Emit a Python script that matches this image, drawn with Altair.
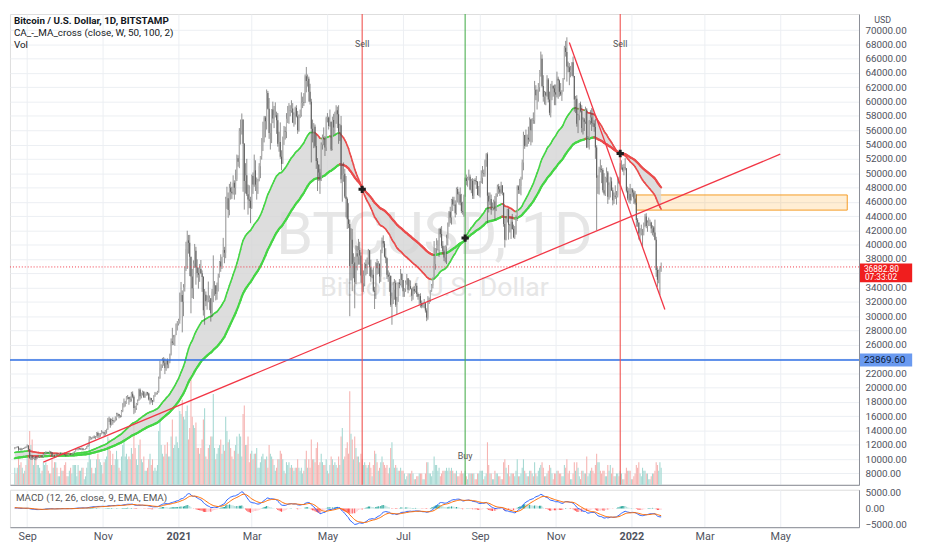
import altair as alt
import numpy as np
import pandas as pd

# ---------------- data ----------------
# daily candles from 2020-08-22; prices in thousands of USD, volume in thousands of BTC
start_date = "2020-08-22"
prev_close_k = 11.52  # close of 2020-08-21 (open of first candle)

close_k = [
    11.68, 11.65, 11.76, 11.34, 11.47, 11.32, 11.53, 11.48, 11.70, 11.65,
    11.92, 11.40, 10.17, 10.47, 10.15, 10.25, 10.37, 10.12, 10.22, 10.34, 10.39, 10.44, 10.33, 10.68, 10.79, 10.95, 10.94, 10.93, 11.08, 10.92, 10.42, 10.53, 10.24, 10.75, 10.69, 10.73, 10.78, 10.70, 10.84, 10.78,
    10.62, 10.58, 10.55, 10.67, 10.78, 10.60, 10.67, 10.92, 11.07, 11.30, 11.38, 11.54, 11.43, 11.43, 11.50, 11.33, 11.37, 11.51, 11.75, 11.92, 12.82, 12.99, 12.93, 13.13, 13.04, 13.07, 13.65, 13.28, 13.46, 13.56, 13.80,
    13.76, 13.56, 14.03, 14.15, 15.59, 15.58, 14.83, 15.48, 15.33, 15.31, 15.70, 16.29, 16.33, 16.07, 15.96, 16.72, 17.66, 17.80, 17.82, 18.66, 18.69, 18.42, 18.37, 19.15, 18.73, 17.15, 17.14, 17.73, 18.18, 19.70,
    18.79, 19.21, 19.44, 18.65, 19.15, 19.36, 19.17, 18.33, 18.55, 18.24, 18.05, 18.80, 19.17, 19.27, 19.43, 21.33, 22.80, 23.14, 23.86, 23.48, 22.74, 23.82, 23.25, 23.71, 24.69, 26.44, 26.28, 27.05, 27.35, 28.87, 28.99,
    29.40, 32.19, 32.97, 32.02, 34.03, 36.82, 39.38, 40.60, 40.25, 38.30, 35.55, 33.92, 37.36, 39.15, 36.80, 36.03, 35.80, 36.60, 36.00, 35.47, 30.83, 33.00, 32.08, 32.26, 32.25, 32.51, 30.40, 33.44, 34.30, 34.30, 33.10,
    33.53, 35.52, 37.65, 36.95, 38.28, 39.26, 38.88, 46.40, 46.48, 44.85, 47.95, 47.40, 47.20, 48.65, 47.95, 49.15, 52.10, 51.60, 55.90, 55.90, 57.50, 54.10, 48.90, 49.70, 47.05, 46.30, 46.15, 45.15,
    49.60, 48.40, 50.40, 48.40, 48.75, 48.88, 50.97, 52.35, 54.90, 55.85, 57.80, 57.25, 61.20, 59.00, 55.60, 56.90, 58.90, 57.65, 58.10, 58.10, 57.40, 54.10, 54.35, 52.30, 51.30, 55.10, 55.85, 55.80, 57.60, 58.75, 58.80,
    58.75, 59.05, 57.10, 58.20, 59.10, 57.95, 56.00, 58.00, 58.10, 59.80, 59.90, 59.85, 63.55, 62.90, 63.20, 61.40, 60.00, 56.20, 55.70, 56.50, 53.80, 51.70, 51.20, 50.10, 49.00, 54.00, 55.00, 54.80, 53.60, 57.70,
    57.80, 56.60, 57.20, 53.30, 57.45, 56.40, 57.35, 58.80, 58.25, 55.80, 56.70, 49.15, 49.70, 49.90, 46.75, 46.40, 43.55, 42.90, 37.00, 40.70, 37.30, 37.50, 34.75, 38.80, 38.35, 39.25, 38.50, 35.70, 34.60, 35.65, 37.30,
    36.70, 37.55, 39.20, 36.85, 35.50, 35.80, 33.55, 33.40, 37.40, 36.70, 37.30, 35.55, 39.10, 40.50, 40.15, 38.35, 38.10, 35.80, 35.50, 35.60, 31.60, 32.50, 33.70, 34.65, 31.60, 32.20, 34.70, 34.50, 35.90, 35.05,
    33.50, 33.80, 34.70, 35.30, 33.70, 34.20, 33.85, 32.85, 33.80, 33.50, 34.25, 33.10, 32.70, 32.80, 31.85, 31.40, 31.50, 31.80, 30.80, 29.80, 32.10, 32.30, 33.60, 34.30, 35.40, 37.30, 39.50, 40.00, 40.00, 42.20, 41.50,
    39.85, 39.15, 38.20, 39.70, 40.90, 42.80, 44.60, 43.80, 46.30, 45.60, 45.60, 44.40, 47.80, 47.05, 47.00, 45.90, 44.70, 44.60, 46.70, 49.30, 48.90, 49.30, 49.50, 47.70, 48.95, 46.85, 49.05, 48.90, 48.80, 46.95, 47.15,
    48.80, 49.30, 50.00, 49.90, 51.75, 52.65, 46.85, 46.05, 46.40, 44.85, 45.15, 46.05, 44.95, 47.10, 48.15, 47.75, 47.30, 48.30, 47.25, 42.90, 40.70, 43.55, 44.90, 42.80, 42.70, 43.20, 42.20, 41.05, 41.55, 43.80,
    48.15, 47.65, 48.20, 49.20, 51.50, 55.35, 53.80, 53.95, 54.95, 54.70, 57.50, 56.00, 57.40, 57.35, 61.65, 60.90, 61.55, 62.00, 64.30, 66.00, 62.20, 60.70, 61.30, 60.85, 63.10, 60.30, 58.45, 60.60, 62.20, 61.85, 61.30,
    61.00, 63.20, 62.95, 61.40, 61.00, 61.50, 63.30, 67.55, 66.95, 64.90, 64.80, 64.15, 64.40, 65.50, 63.60, 60.30, 60.40, 56.90, 58.10, 59.70, 58.70, 56.30, 57.50, 57.20, 58.90, 53.60, 54.80, 57.30, 57.80, 57.00,
    56.95, 56.45, 53.60, 49.35, 49.40, 50.60, 50.55, 50.45, 47.60, 47.15, 49.35, 50.10, 46.70, 48.35, 48.85, 47.60, 46.20, 46.85, 46.70, 46.90, 48.90, 48.60, 50.80, 50.80, 50.40, 50.80, 50.70, 47.55, 46.45, 47.10, 46.20,
    47.70, 47.30, 46.45, 45.85, 43.45, 43.10, 41.55, 41.70, 41.85, 41.85, 42.75, 43.95, 42.60, 43.10, 43.10, 43.10, 42.25, 42.40, 41.70, 40.70, 36.45, 35.10, 36.30, 36.70, 36.88,
]

high_k = [
    11.69, 11.72, 11.82, 11.77, 11.54, 11.59, 11.55, 11.58, 11.71, 11.79,
    12.07, 11.95, 11.44, 10.62, 10.56, 10.34, 10.40, 10.43, 10.35, 10.49, 10.40, 10.48, 10.57, 10.80, 10.94, 11.10, 11.04, 11.03, 11.18, 11.08, 10.98, 10.56, 10.54, 10.78, 10.77, 10.79, 10.80, 10.95, 10.86, 10.85,
    10.92, 10.67, 10.60, 10.69, 10.80, 10.80, 10.69, 10.96, 11.11, 11.50, 11.43, 11.72, 11.56, 11.56, 11.62, 11.54, 11.42, 11.52, 11.82, 12.03, 13.22, 13.17, 13.03, 13.16, 13.33, 13.24, 13.79, 13.85, 13.64, 13.65, 14.06,
    13.89, 13.82, 14.07, 14.25, 15.77, 15.95, 15.77, 15.65, 15.84, 15.46, 15.98, 16.49, 16.48, 16.33, 16.17, 16.88, 17.83, 18.48, 18.15, 18.81, 18.97, 18.70, 18.77, 19.41, 19.48, 18.92, 17.46, 17.85, 18.35, 19.86,
    19.89, 19.31, 19.59, 19.51, 19.16, 19.42, 19.40, 19.28, 18.64, 18.57, 18.27, 18.95, 19.40, 19.34, 19.56, 21.55, 23.77, 23.27, 24.17, 24.28, 24.10, 23.83, 24.10, 23.79, 24.76, 26.89, 28.37, 27.37, 27.39, 28.99, 29.32,
    29.63, 33.30, 34.78, 33.60, 34.48, 36.95, 40.40, 41.95, 41.36, 41.37, 38.30, 36.60, 37.80, 40.10, 39.70, 37.95, 36.80, 37.30, 37.85, 36.40, 35.60, 33.80, 33.45, 32.90, 34.84, 32.90, 32.52, 33.80, 38.50, 34.90, 34.35,
    34.70, 35.95, 37.70, 38.65, 38.30, 40.95, 39.70, 46.70, 48.10, 47.30, 48.50, 48.80, 48.10, 49.70, 49.00, 50.50, 52.60, 52.50, 56.30, 57.50, 58.35, 57.50, 54.20, 51.40, 52.00, 48.40, 48.30, 46.70,
    49.80, 50.10, 52.60, 51.80, 49.40, 49.20, 51.40, 52.40, 54.90, 57.20, 58.00, 58.00, 61.70, 61.50, 60.50, 56.95, 58.95, 60.00, 59.40, 59.90, 58.60, 58.40, 55.80, 57.10, 53.20, 55.10, 56.60, 56.50, 58.40, 59.40, 59.80,
    59.50, 60.20, 59.80, 58.50, 59.30, 59.50, 58.70, 58.20, 58.90, 61.30, 60.70, 61.20, 63.80, 64.85, 63.80, 63.50, 62.50, 60.40, 57.50, 57.00, 56.80, 55.40, 52.10, 51.20, 50.60, 54.30, 55.40, 56.40, 55.20, 57.90,
    58.40, 57.90, 58.90, 57.10, 57.90, 58.30, 58.60, 59.50, 59.30, 59.50, 56.90, 58.00, 51.30, 51.50, 50.60, 49.60, 46.60, 45.80, 43.50, 42.30, 42.20, 38.80, 38.30, 39.90, 39.80, 40.80, 40.40, 38.90, 37.30, 36.40, 37.50,
    37.90, 38.20, 39.40, 39.25, 37.90, 36.50, 36.80, 34.10, 37.55, 38.00, 37.70, 37.40, 39.30, 41.00, 41.30, 40.50, 39.50, 38.20, 36.40, 36.10, 35.70, 33.30, 34.80, 35.20, 35.00, 32.70, 34.70, 35.20, 36.60, 36.00,
    35.00, 33.90, 35.00, 35.90, 35.30, 35.10, 35.00, 33.90, 34.10, 34.20, 34.60, 34.65, 33.30, 33.10, 33.20, 32.20, 31.90, 32.40, 31.90, 31.10, 32.80, 32.60, 33.60, 34.50, 35.40, 40.50, 39.50, 40.90, 40.60, 42.30, 42.40,
    42.60, 40.50, 39.80, 39.90, 41.40, 43.10, 44.70, 45.30, 46.40, 46.70, 46.70, 46.20, 48.00, 48.10, 47.40, 48.00, 47.10, 46.00, 47.00, 49.40, 49.80, 49.50, 50.50, 49.80, 49.20, 49.30, 49.15, 49.30, 49.60, 48.90, 48.20,
    48.90, 50.40, 51.00, 50.50, 51.90, 52.80, 52.90, 47.30, 47.30, 47.00, 45.90, 46.30, 46.80, 47.20, 48.40, 48.50, 48.20, 48.80, 48.30, 47.30, 43.60, 44.00, 45.00, 45.10, 42.90, 43.90, 44.30, 42.80, 42.60, 44.10,
    48.30, 48.30, 49.20, 49.50, 51.90, 55.80, 55.30, 56.10, 55.40, 56.50, 57.80, 57.60, 57.70, 58.50, 62.90, 62.30, 61.70, 62.60, 64.40, 67.00, 66.60, 63.70, 61.50, 61.40, 63.70, 63.30, 61.40, 62.50, 62.90, 62.30, 62.40,
    62.40, 64.20, 63.50, 63.10, 62.60, 61.60, 63.30, 67.80, 68.50, 69.00, 65.60, 65.40, 65.00, 65.50, 66.30, 63.60, 60.80, 60.90, 58.30, 59.80, 60.00, 59.50, 57.80, 57.70, 59.30, 59.10, 55.20, 57.40, 58.80, 59.10,
    59.00, 57.40, 57.60, 53.90, 49.70, 50.90, 51.90, 51.10, 50.70, 50.00, 49.50, 50.80, 50.30, 48.70, 49.50, 49.40, 48.00, 47.30, 48.30, 47.50, 49.30, 49.50, 51.40, 51.80, 51.20, 51.30, 52.10, 50.70, 48.10, 47.90, 48.50,
    47.90, 47.90, 47.60, 47.50, 47.10, 43.70, 43.10, 42.30, 42.80, 42.20, 43.10, 44.30, 44.40, 43.40, 43.80, 43.50, 43.20, 42.70, 42.60, 43.50, 41.10, 36.80, 36.50, 37.00, 37.50,
]

low_k = [
    11.38, 11.52, 11.59, 11.13, 11.27, 11.16, 11.29, 11.43, 11.46, 11.55,
    11.65, 11.17, 10.06, 9.90, 9.88, 10.02, 9.90, 9.85, 10.01, 10.20, 10.20, 10.28, 10.21, 10.23, 10.63, 10.66, 10.76, 10.80, 10.90, 10.83, 10.37, 10.38, 10.14, 10.21, 10.55, 10.65, 10.62, 10.64, 10.64, 10.67,
    10.55, 10.38, 10.51, 10.53, 10.60, 10.54, 10.56, 10.54, 10.83, 11.06, 11.27, 11.22, 11.30, 11.29, 11.26, 11.23, 11.30, 11.33, 11.42, 11.70, 11.90, 12.72, 12.73, 12.90, 12.90, 12.77, 13.05, 12.95, 12.99, 13.13, 13.46,
    13.62, 13.20, 13.30, 13.55, 14.10, 15.20, 14.40, 14.72, 14.82, 15.08, 15.29, 15.42, 15.95, 15.70, 15.79, 15.88, 16.57, 17.23, 17.35, 17.75, 18.35, 17.61, 18.00, 18.05, 18.52, 16.30, 16.49, 16.88, 17.54, 18.18,
    18.33, 18.51, 18.90, 18.56, 18.59, 18.87, 18.91, 18.20, 17.65, 17.91, 17.57, 18.02, 18.72, 19.00, 19.05, 19.29, 21.24, 22.36, 22.76, 23.06, 21.90, 22.36, 22.70, 22.72, 23.42, 24.51, 25.95, 25.98, 25.86, 27.34, 28.00,
    28.70, 28.95, 32.00, 27.73, 30.00, 33.44, 36.31, 36.60, 38.75, 35.60, 30.40, 32.53, 32.40, 36.75, 34.40, 35.40, 33.85, 34.80, 35.90, 33.40, 30.08, 28.80, 31.40, 30.90, 31.95, 30.83, 29.24, 29.90, 31.96, 32.85, 32.20,
    32.30, 33.45, 35.40, 36.20, 36.60, 38.25, 37.40, 38.10, 45.00, 43.75, 44.10, 46.30, 46.40, 47.00, 46.30, 47.00, 48.90, 50.90, 50.70, 54.00, 55.40, 47.40, 44.90, 47.15, 46.80, 44.20, 45.10, 43.00,
    45.00, 47.10, 48.10, 47.50, 46.30, 47.10, 48.90, 49.30, 51.90, 53.10, 54.30, 55.00, 56.10, 58.90, 54.80, 53.30, 54.20, 57.00, 56.30, 57.80, 55.50, 53.70, 53.00, 52.00, 50.40, 51.30, 53.95, 54.70, 54.90, 57.00, 56.90,
    57.95, 58.45, 57.00, 56.50, 56.80, 57.80, 55.50, 55.80, 57.70, 57.90, 59.10, 59.40, 59.80, 61.30, 62.10, 60.00, 59.60, 51.50, 54.30, 53.50, 53.60, 50.60, 47.50, 48.90, 47.10, 48.90, 53.30, 53.90, 52.40, 53.10,
    57.10, 56.10, 56.50, 53.10, 53.20, 55.30, 55.40, 56.90, 56.30, 54.10, 54.50, 48.60, 46.00, 48.80, 46.50, 43.80, 42.20, 42.30, 30.00, 35.00, 33.50, 35.30, 31.10, 34.50, 36.40, 37.20, 37.20, 34.70, 33.40, 33.40, 34.20,
    35.70, 35.90, 37.20, 35.60, 34.80, 35.30, 33.35, 31.00, 32.40, 35.80, 35.90, 34.60, 34.80, 38.80, 39.60, 38.20, 37.40, 35.20, 34.80, 33.40, 31.30, 28.80, 31.70, 32.30, 31.30, 30.20, 32.00, 33.90, 34.30, 34.00,
    32.70, 32.70, 33.40, 34.40, 33.20, 33.60, 33.75, 32.10, 32.30, 33.10, 33.30, 32.70, 32.30, 31.60, 31.20, 31.10, 31.20, 31.10, 30.50, 29.30, 29.50, 31.70, 32.00, 33.40, 33.90, 35.30, 36.50, 38.80, 39.20, 38.30, 41.00,
    39.50, 38.70, 37.70, 37.50, 37.30, 39.90, 42.50, 43.00, 42.80, 44.70, 45.40, 43.80, 44.20, 45.90, 45.60, 45.50, 44.40, 44.20, 43.90, 46.70, 48.30, 48.10, 49.00, 47.60, 47.20, 46.40, 46.40, 48.40, 47.80, 46.90, 46.80,
    46.60, 48.60, 48.50, 49.50, 49.50, 50.90, 43.00, 44.50, 45.50, 44.20, 44.80, 44.80, 43.40, 44.70, 46.70, 47.10, 46.80, 47.10, 46.90, 42.50, 39.60, 40.60, 43.10, 40.70, 41.70, 40.80, 42.10, 40.90, 40.80, 41.40,
    43.30, 47.10, 47.10, 46.90, 49.10, 50.40, 53.40, 53.70, 53.70, 54.10, 54.40, 53.90, 54.30, 56.90, 56.90, 60.20, 58.90, 60.00, 61.40, 63.50, 62.00, 60.00, 59.60, 59.50, 60.70, 59.90, 58.10, 57.80, 60.20, 60.70, 59.50,
    59.50, 60.60, 60.40, 60.70, 60.80, 60.10, 61.40, 63.10, 66.30, 62.80, 64.10, 62.30, 63.40, 63.60, 63.40, 58.60, 58.40, 56.50, 55.60, 57.40, 58.50, 55.70, 55.40, 55.90, 56.90, 53.50, 53.70, 53.30, 56.80, 55.90,
    56.50, 55.80, 52.00, 42.00, 47.10, 47.00, 50.10, 48.60, 47.30, 46.90, 46.80, 48.70, 45.70, 46.30, 46.60, 47.50, 45.50, 45.70, 46.40, 45.60, 46.60, 48.50, 48.10, 50.50, 50.20, 49.70, 50.40, 47.30, 46.20, 45.90, 45.70,
    46.20, 46.70, 45.70, 45.60, 42.50, 42.50, 40.70, 40.50, 41.30, 39.70, 41.30, 42.50, 42.30, 41.80, 42.60, 42.60, 41.60, 41.30, 41.10, 40.60, 35.50, 34.10, 34.60, 32.95, 36.20,
]

vol_k = [
    6, 4, 6, 10, 7, 8, 6, 4, 5, 7,
    11, 13, 19, 14, 16, 7, 9, 10, 7, 7, 6, 4, 5, 8, 7, 8, 7, 5, 4, 4, 9, 6, 8, 8, 6, 3, 3, 6, 5, 5,
    7, 8, 3, 3, 5, 6, 4, 7, 7, 7, 3, 7, 5, 5, 6, 6, 2, 3, 6, 8, 15, 9, 6, 4, 4, 6, 9, 11, 9, 8, 7,
    4, 8, 9, 10, 17, 16, 12, 7, 11, 7, 9, 12, 9, 6, 5, 10, 14, 17, 10, 11, 9, 10, 9, 13, 11, 22, 13, 9, 7, 14,
    16, 9, 8, 10, 5, 5, 6, 9, 11, 7, 9, 5, 6, 5, 7, 19, 25, 14, 11, 10, 14, 11, 15, 10, 10, 17, 23, 13, 14, 17, 15,
    13, 26, 25, 30, 24, 23, 26, 28, 16, 20, 40, 24, 21, 20, 22, 13, 13, 11, 13, 16, 23, 27, 10, 9, 13, 14, 17, 17, 32, 13, 9,
    11, 13, 14, 16, 11, 14, 12, 24, 19, 15, 16, 13, 10, 9, 12, 14, 17, 11, 18, 17, 10, 25, 28, 14, 14, 17, 8, 11,
    12, 9, 11, 11, 13, 6, 6, 8, 10, 11, 9, 9, 10, 6, 14, 11, 10, 9, 7, 5, 6, 9, 9, 12, 11, 9, 5, 4, 8, 7, 8,
    6, 7, 6, 5, 6, 6, 9, 6, 5, 6, 4, 5, 9, 12, 6, 9, 6, 16, 9, 9, 8, 13, 15, 7, 8, 11, 8, 7, 7, 9,
    5, 4, 7, 10, 9, 7, 8, 7, 6, 10, 7, 17, 20, 9, 10, 13, 15, 11, 33, 18, 16, 9, 17, 13, 10, 10, 8, 11, 9, 7, 8,
    7, 6, 7, 8, 6, 3, 7, 12, 11, 8, 5, 6, 8, 10, 8, 7, 6, 7, 4, 6, 13, 15, 9, 6, 7, 6, 5, 5, 6, 5,
    5, 4, 2, 3, 4, 4, 4, 5, 4, 2, 2, 3, 3, 4, 4, 4, 2, 2, 4, 8, 8, 4, 4, 3, 5, 10, 7, 7, 5, 6, 3,
    4, 5, 5, 5, 6, 5, 6, 5, 6, 5, 4, 4, 5, 3, 3, 4, 5, 4, 4, 5, 3, 2, 4, 4, 4, 4, 4, 2, 2, 4, 4,
    5, 5, 5, 2, 3, 4, 15, 7, 4, 4, 2, 2, 5, 4, 4, 3, 3, 2, 2, 8, 9, 6, 4, 7, 3, 4, 4, 4, 3, 5,
    9, 3, 3, 4, 6, 9, 5, 4, 3, 3, 5, 5, 4, 3, 8, 4, 3, 5, 6, 7, 8, 6, 3, 3, 4, 5, 7, 6, 4, 2, 4,
    4, 5, 5, 4, 4, 3, 3, 7, 6, 9, 4, 5, 2, 2, 4, 8, 5, 8, 6, 3, 2, 5, 5, 4, 4, 10, 3, 4, 5, 6,
    5, 4, 7, 11, 8, 8, 5, 4, 5, 5, 3, 3, 7, 5, 7, 4, 6, 3, 3, 4, 4, 3, 5, 4, 2, 2, 4, 6, 5, 5, 5,
    2, 2, 3, 4, 7, 6, 8, 4, 3, 6, 5, 5, 4, 4, 2, 2, 3, 4, 4, 5, 8, 7, 5, 8, 6,
]

# indicator starting values on 2020-08-21 (read at the left edge)
ma_fast_len, ma_slow_len = 50, 100
ma_fast_seed, ma_slow_seed = 10900.0, 10100.0
macd_fast_seed, macd_slow_seed, macd_signal_seed = 11750.0, 11550.0, 280.0

# annotations
signal_dates = ["2021-05-29", "2021-08-20", "2021-12-23"]
signal_names = ["Sell", "Buy", "Sell"]
signal_colors = ["#f0524f", "#4caf50", "#f0524f"]

trend_start_dates = ["2020-09-14", "2021-11-12"]
trend_end_dates = ["2022-05-01", "2022-01-28"]
trend_start_prices = [9590, 68280]
trend_end_prices = [52650, 30920]

zone_dates = ["2022-01-05", "2022-06-24"]
zone_prices = [44830, 46950]

support_price = 23869.60
last_price = 36882.80
countdown = "07:33:02"

legend_title = "Bitcoin / U.S. Dollar, 1D, BITSTAMP"
legend_lines = "CA_-_MA_cross (close, W, 50, 100, 2)\nVol"
macd_title = "MACD (12, 26, close, 9, EMA, EMA)"
watermark_big = "BTCUSD, 1D"
watermark_small = "Bitcoin / U.S. Dollar"

y_ticks = list(range(8000, 70001, 2000))
macd_ticks = [5000, 0, -5000]
x_tick_dates = ["2020-09-01", "2020-11-01", "2021-01-01", "2021-03-01", "2021-05-01",
                "2021-07-01", "2021-09-01", "2021-11-01", "2022-01-01", "2022-03-01", "2022-05-01"]
x_domain = ["2020-08-22T02:00", "2022-06-29T12:00"]
price_domain = [6410, 72255]
macd_domain = [-5900, 5900]
vol_domain = [0, 166]

# ---------------- build tables ----------------
lens = [len(close_k), len(high_k), len(low_k), len(vol_k)]
if len(set(lens)) != 1:
    raise ValueError(f"length mismatch {lens}")


def ms(s):
    return int(pd.Timestamp(s).value // 10**6)


def ema(values, length, seed):
    a = 2.0 / (length + 1)
    e = seed
    out = []
    for v in values:
        e = e + a * (v - e)
        out.append(e)
    return np.array(out)


n = len(close_k)
dates = pd.date_range(start_date, periods=n, freq="D")
c = np.array(close_k) * 1000
o = np.concatenate([[prev_close_k * 1000], c[:-1]])
h = np.maximum(np.array(high_k) * 1000, np.maximum(o, c))
l = np.minimum(np.array(low_k) * 1000, np.minimum(o, c))

UP_BODY, DN_BODY, WICK = "#b4b4b4", "#606060", "#454545"
VOL_UP, VOL_DN = "#a6d9d3", "#f6b4b2"
GREEN, RED = "#45d545", "#ea4c4c"

df = pd.DataFrame({"t": dates.asi8 // 10**6, "open": o, "high": h, "low": l, "close": c,
                   "vol": np.array(vol_k, dtype=float)})
up = df["close"] >= df["open"]
df["body_color"] = np.where(up, UP_BODY, DN_BODY)
df["vol_color"] = np.where(up, VOL_UP, VOL_DN)
df["fast"] = ema(c, ma_fast_len, ma_fast_seed)
df["slow"] = ema(c, ma_slow_len, ma_slow_seed)

e12 = ema(c, 12, macd_fast_seed)
e26 = ema(c, 26, macd_slow_seed)
macd = e12 - e26
sig = ema(macd, 9, macd_signal_seed)
hist = macd - sig
prev = np.concatenate([[hist[0]], hist[:-1]])
hist_color = np.where(hist >= 0, np.where(hist >= prev, "#26a69a", "#b2dfdb"),
                      np.where(hist > prev, "#ffcdd2", "#ff5252"))
df["macd"] = macd
df["signal"] = sig
df["hist"] = hist
df["hist_color"] = hist_color

seg = df.iloc[:-1].copy()
seg["t2"] = df["t"].values[1:]
seg["fast2"] = df["fast"].values[1:]
seg["slow2"] = df["slow"].values[1:]
seg["fast_color"] = np.where(seg["fast2"] >= seg["fast"], GREEN, RED)
seg["slow_color"] = np.where(seg["slow2"] >= seg["slow"], GREEN, RED)

fast_by_t = dict(zip(df["t"], df["fast"]))
sig_df = pd.DataFrame({"t": [ms(d) for d in signal_dates], "name": signal_names, "color": signal_colors})
sig_df["y"] = [fast_by_t[t] for t in sig_df["t"]]

trend_df = pd.DataFrame({"t1": [ms(d) for d in trend_start_dates], "t2": [ms(d) for d in trend_end_dates],
                         "p1": trend_start_prices, "p2": trend_end_prices})
zone_df = pd.DataFrame({"t1": [ms(zone_dates[0])], "t2": [ms(zone_dates[1])],
                        "p1": [zone_prices[0]], "p2": [zone_prices[1]]})
support_df = pd.DataFrame({"p": [support_price], "lbl": [f"{support_price:.2f}"]})
last_df = pd.DataFrame({"p": [last_price], "lbl": [f"{last_price:.2f}"], "cd": [countdown]})

# ---------------- chart ----------------
FONT = "Roboto"
W, H_MAIN, H_MACD = 862, 478, 38
GRID = "#eceff3"
AXIS_LINE = "#8a8d96"
LABEL = "#50535e"

xscale = alt.Scale(type="utc", domain=[ms(x_domain[0]), ms(x_domain[1])])
xticks = [ms(d) for d in x_tick_dates]
x_axis_main = alt.Axis(values=xticks, labels=False, ticks=False, grid=True, gridColor=GRID,
                       domain=True, domainColor=AXIS_LINE, title=None)
x_axis_macd = alt.Axis(values=xticks, ticks=False, grid=True, gridColor=GRID, domain=True,
                       domainColor=AXIS_LINE, title=None, labelFont=FONT, labelFontSize=11,
                       labelColor=LABEL, labelPadding=4, labelFlush=False,
                       labelExpr="utcmonth(datum.value) == 0 ? utcFormat(datum.value, '%Y') : utcFormat(datum.value, '%b')",
                       labelFontWeight={"condition": {"test": "utcmonth(datum.value) == 0", "value": "bold"},
                                        "value": "normal"})

# price labels hidden under the two axis boxes (as on the reference)
hidden = " || ".join(f"abs(datum.value - {p}) < 1000" for p in (support_price, last_price))
pscale = alt.Scale(domain=price_domain, zero=False, nice=False)
y_axis_main = alt.Axis(orient="right", values=y_ticks, labelExpr=f"({hidden}) ? '' : format(datum.value, '.2f')",
                       labelFont=FONT, labelFontSize=10,
                       labelColor=LABEL, ticks=False, labelPadding=6, grid=True, gridColor=GRID,
                       domain=True, domainColor=AXIS_LINE, labelOverlap=False, title=None)


def X(field="t", axis=x_axis_main):
    return alt.X(f"{field}:T", scale=xscale, axis=axis, title=None)


def PY(field):
    return alt.Y(f"{field}:Q", scale=pscale, axis=y_axis_main, title=None)


watermark = alt.layer(
    alt.Chart(pd.DataFrame({"txt": [watermark_big]})).mark_text(
        font=FONT, fontSize=60, color="#e6e6e6", baseline="middle", align="center").encode(
        text="txt:N", x=alt.value(W * 0.5), y=alt.value(226)),
    alt.Chart(pd.DataFrame({"txt": [watermark_small]})).mark_text(
        font=FONT, fontSize=27, color="#e6e6e6", baseline="middle", align="center").encode(
        text="txt:N", x=alt.value(W * 0.5), y=alt.value(278)),
)

volume = alt.Chart(df).mark_bar(size=1.1).encode(
    x=X(), y=alt.Y("vol:Q", scale=alt.Scale(domain=vol_domain), axis=None, title=None),
    color=alt.Color("vol_color:N", scale=None))

zone = alt.Chart(zone_df).mark_rect(fill="#ff9800", fillOpacity=0.17, stroke="#f59a23",
                                    strokeWidth=1).encode(
    x=X("t1"), x2=alt.X2("t2"), y=PY("p1"), y2=alt.Y2("p2"))

band = alt.Chart(df).mark_area(color="#d4d4d4", opacity=0.8).encode(
    x=X(), y=PY("fast"), y2=alt.Y2("slow"))

slow_line = alt.Chart(seg).mark_rule(strokeWidth=2.2, strokeCap="round").encode(
    x=X(), x2=alt.X2("t2"), y=PY("slow"), y2=alt.Y2("slow2"), color=alt.Color("slow_color:N", scale=None))
fast_line = alt.Chart(seg).mark_rule(strokeWidth=1.6, strokeCap="round").encode(
    x=X(), x2=alt.X2("t2"), y=PY("fast"), y2=alt.Y2("fast2"), color=alt.Color("fast_color:N", scale=None))

wicks = alt.Chart(df).mark_rule(strokeWidth=0.6, color=WICK).encode(
    x=X(), y=PY("low"), y2=alt.Y2("high"))
bodies = alt.Chart(df).mark_rule(strokeWidth=1.1).encode(
    x=X(), y=PY("open"), y2=alt.Y2("close"), color=alt.Color("body_color:N", scale=None))

trends = alt.Chart(trend_df).mark_rule(color="#f23645", strokeWidth=1.3).encode(
    x=X("t1"), x2=alt.X2("t2"), y=PY("p1"), y2=alt.Y2("p2"))

support = alt.Chart(support_df).mark_rule(color="#2f6fe4", strokeWidth=1.5).encode(y=PY("p"))
last_line = alt.Chart(last_df).mark_rule(color="#f23645", strokeWidth=1, strokeDash=[1, 2]).encode(y=PY("p"))

vlines = alt.Chart(sig_df).mark_rule(strokeWidth=1.1).encode(
    x=X(), color=alt.Color("color:N", scale=None))
markers = alt.Chart(sig_df).mark_point(shape="cross", filled=True, size=55, color="#1f1f1f", opacity=1).encode(
    x=X(), y=PY("y"))
sell_txt = alt.Chart(sig_df).transform_filter("datum.name == 'Sell'").mark_text(
    font=FONT, fontSize=9, color="#555555").encode(x=X(), y=alt.value(30), text="name:N")
buy_txt = alt.Chart(sig_df).transform_filter("datum.name == 'Buy'").mark_text(
    font=FONT, fontSize=9, color="#555555").encode(x=X(), y=alt.value(449), text="name:N")

legend1 = alt.Chart(pd.DataFrame({"txt": [legend_title]})).mark_text(
    font=FONT, fontSize=10, fontWeight="bold", color="#131722", align="left", baseline="middle").encode(
    text="txt:N", x=alt.value(4), y=alt.value(7))
legend2 = alt.Chart(pd.DataFrame({"txt": [legend_lines]})).mark_text(
    font=FONT, fontSize=10, color="#131722", align="left", baseline="middle", lineBreak="\n",
    lineHeight=12).encode(text="txt:N", x=alt.value(4), y=alt.value(19))

sup_box = alt.Chart(support_df).mark_rule(strokeWidth=13, color="#6a9af0").encode(
    x=alt.value(W + 1), x2=alt.value(W + 54), y=PY("p"))
sup_lbl = alt.Chart(support_df).mark_text(font=FONT, fontSize=10, color="#0b1a3a", align="left",
                                          baseline="middle").encode(
    x=alt.value(W + 5), y=PY("p"), text="lbl:N")
last_box = alt.Chart(last_df).mark_rule(strokeWidth=19, color="#f01e1e", yOffset=6).encode(
    x=alt.value(W + 1), x2=alt.value(W + 54), y=PY("p"))
last_lbl = alt.Chart(last_df).mark_text(font=FONT, fontSize=8.5, color="white", align="left",
                                        baseline="middle", dy=2).encode(
    x=alt.value(W + 5), y=PY("p"), text="lbl:N")
last_cd = alt.Chart(last_df).mark_text(font=FONT, fontSize=8.5, color="white", align="left",
                                       baseline="middle", dy=10.5).encode(
    x=alt.value(W + 6), y=PY("p"), text="cd:N")
usd = alt.Chart(pd.DataFrame({"txt": ["USD"]})).mark_text(
    font=FONT, fontSize=9, color=LABEL, align="center", baseline="middle").encode(
    text="txt:N", x=alt.value(W + 24), y=alt.value(6))

price_layers = alt.layer(zone, band, slow_line, fast_line, wicks, bodies, trends, support, last_line,
                         vlines, markers, sell_txt, buy_txt, legend1, legend2,
                         sup_box, sup_lbl, last_box, last_lbl, last_cd, usd)

main = alt.layer(watermark, volume, price_layers).resolve_scale(y="independent").properties(
    width=W, height=H_MAIN)

mscale = alt.Scale(domain=macd_domain, zero=False, nice=False)
y_axis_macd = alt.Axis(orient="right", values=macd_ticks, format=".2f", labelFont=FONT, labelFontSize=10,
                       labelColor=LABEL, ticks=False, labelPadding=6, grid=False, domain=True,
                       domainColor=AXIS_LINE, labelOverlap=False, title=None)


def MY(field):
    return alt.Y(f"{field}:Q", scale=mscale, axis=y_axis_macd, title=None)


hist_bars = alt.Chart(df).mark_bar(size=1.1).encode(
    x=X(axis=x_axis_macd), y=MY("hist"), color=alt.Color("hist_color:N", scale=None))
macd_line = alt.Chart(df).mark_line(color="#2962ff", strokeWidth=1).encode(x=X(axis=x_axis_macd), y=MY("macd"))
sig_line = alt.Chart(df).mark_line(color="#ff6d00", strokeWidth=1).encode(x=X(axis=x_axis_macd), y=MY("signal"))
macd_lbl = alt.Chart(pd.DataFrame({"txt": [macd_title]})).mark_text(
    font=FONT, fontSize=10, color="#555555", align="left", baseline="middle").encode(
    text="txt:N", x=alt.value(6), y=alt.value(8))

macd_chart = alt.layer(hist_bars, macd_line, sig_line, macd_lbl).properties(width=W, height=H_MACD)

chart = alt.vconcat(main, macd_chart, spacing=0).properties(
    padding={"left": 0, "top": 0, "right": 2, "bottom": 0}
).configure_view(stroke=None).configure(font=FONT)

chart.save("out.html", embed_options={"renderer": "svg", "actions": False})
